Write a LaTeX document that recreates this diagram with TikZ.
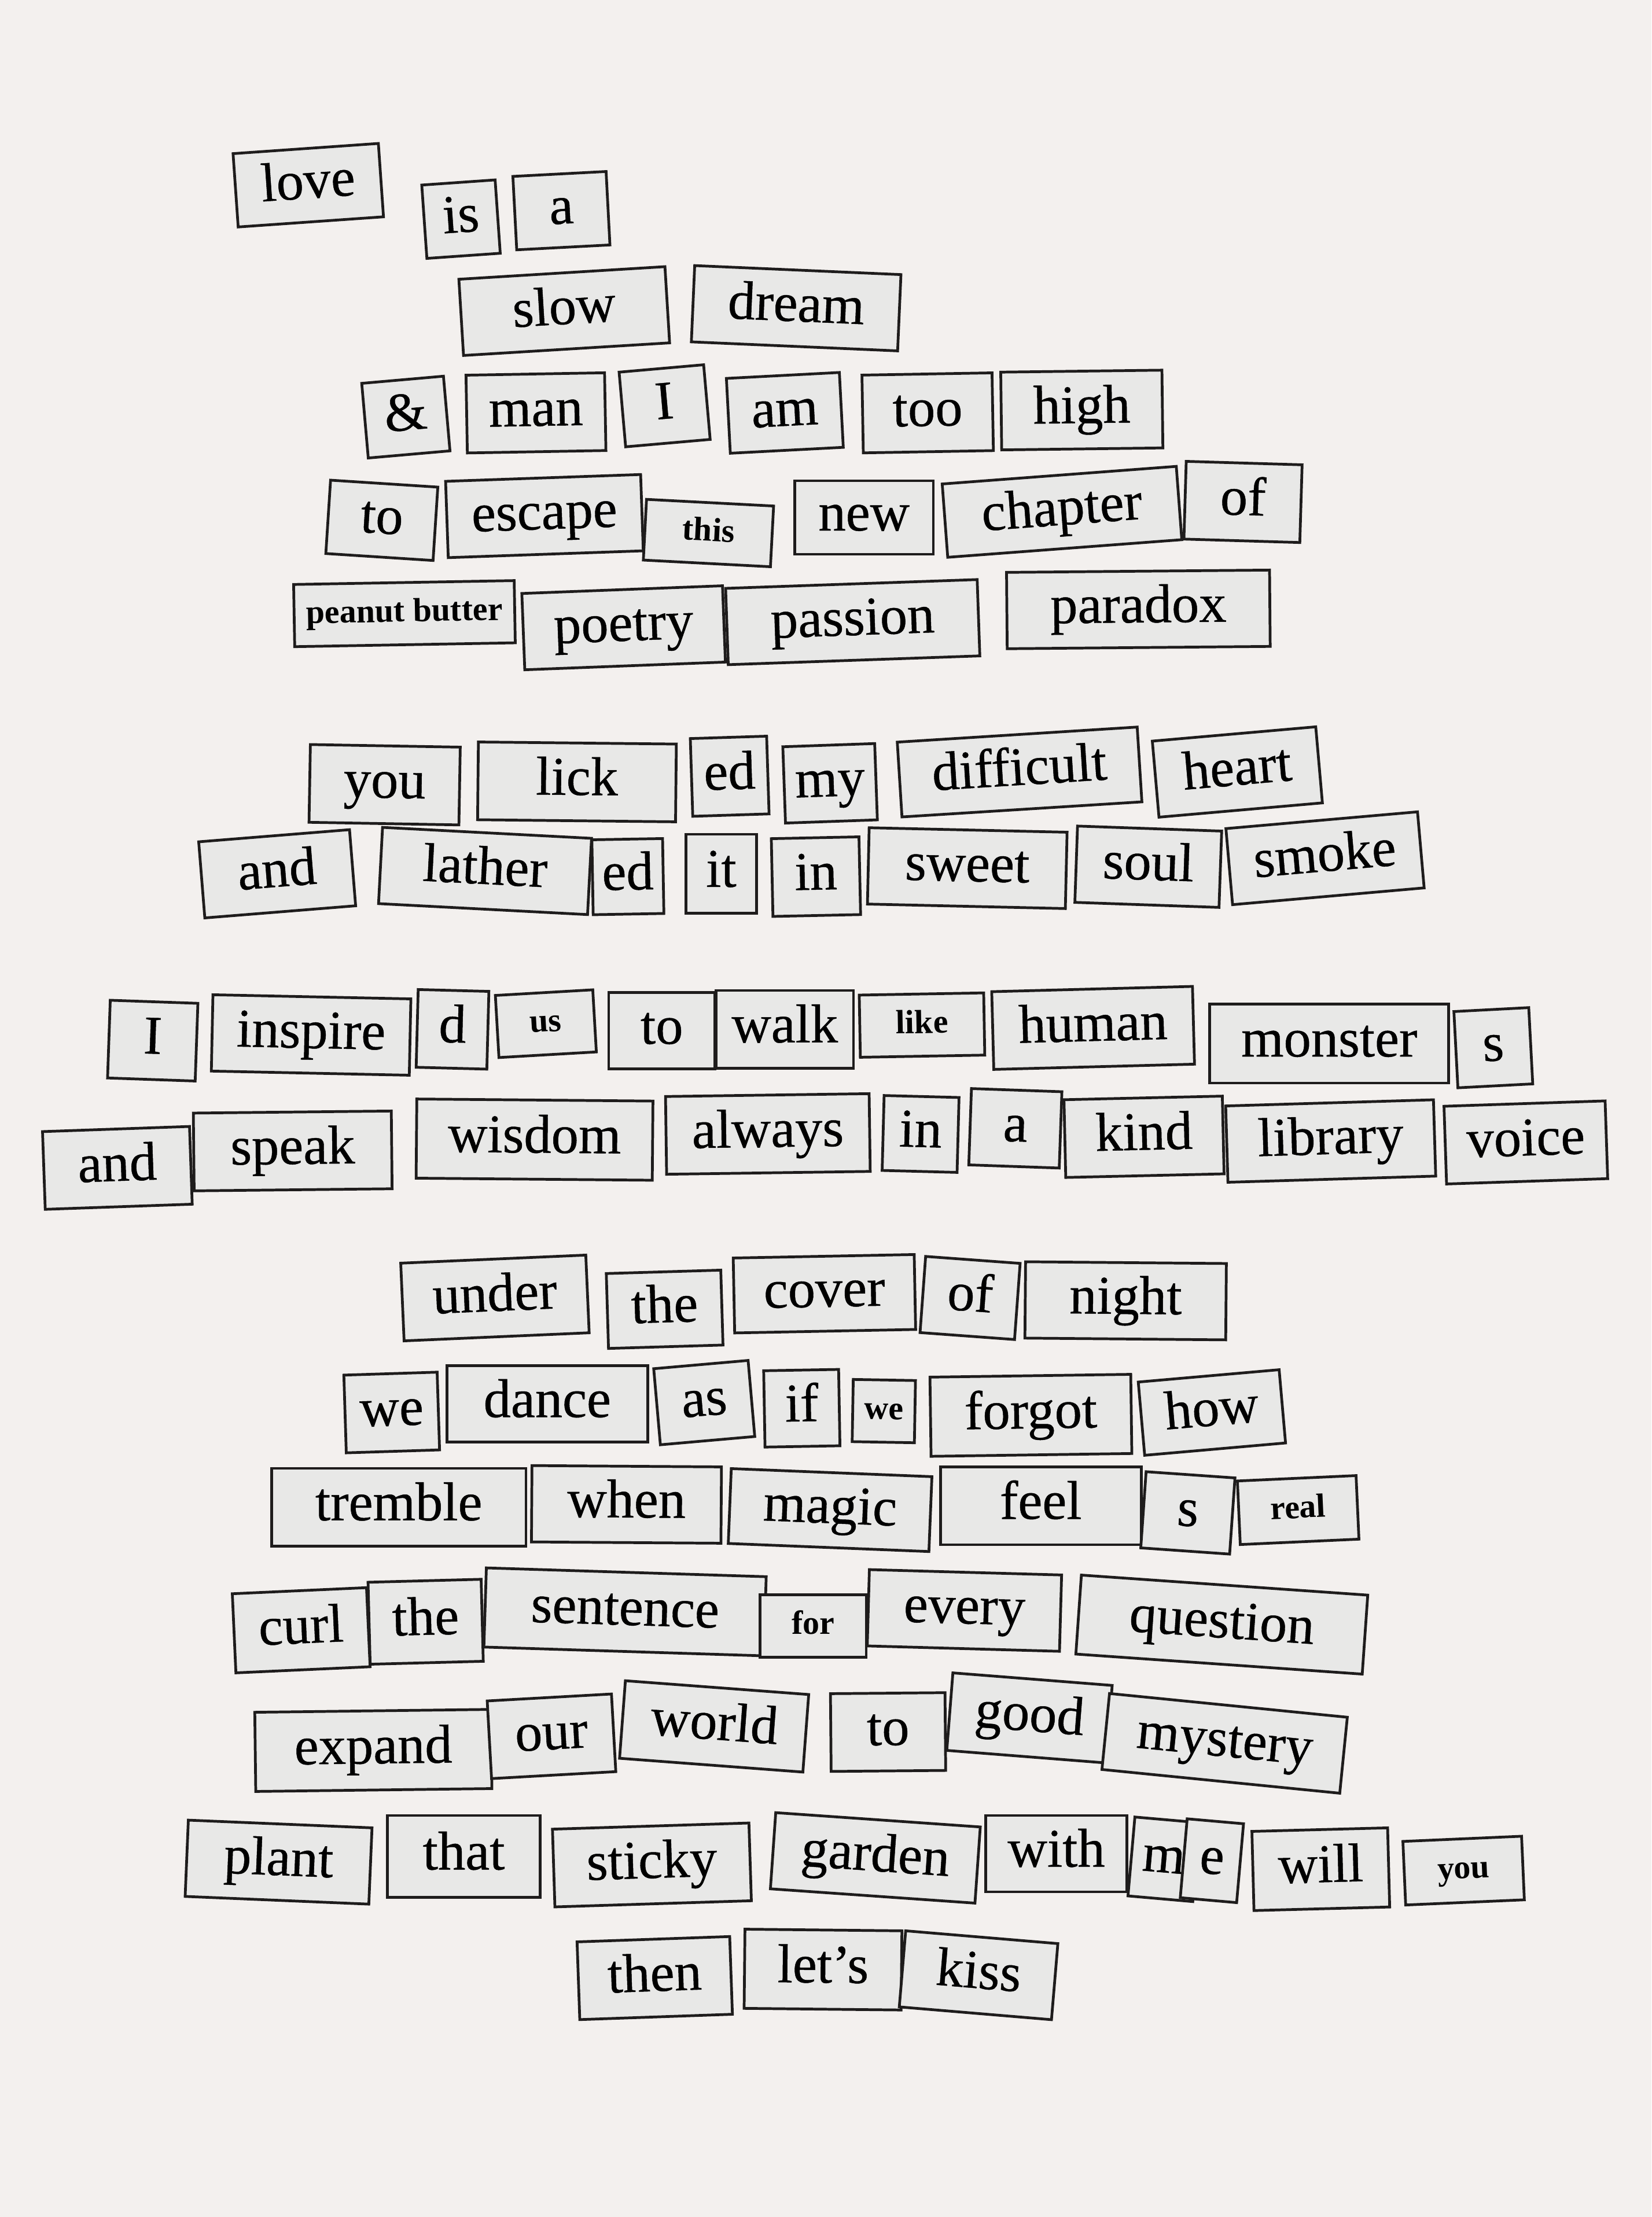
\documentclass[tikz,border=0pt]{standalone}
\usepackage{fontspec}
\setmainfont{Liberation Serif}
\newfontfamily\inkfont[FakeBold=0.5]{Liberation Serif}
\definecolor{fridge}{RGB}{243,240,238}
\definecolor{tilefill}{RGB}{232,232,231}
\definecolor{tileedge}{RGB}{30,28,28}
\tikzset{
  wordtile/.style={draw=tileedge, line width=1.1pt, fill=tilefill, inner sep=0pt,
    font=\inkfont\fontsize{22}{22}\selectfont, text height=15pt, text depth=4.5pt},
  smallword/.style={wordtile, font=\fontsize{13.5}{13.5}\selectfont\bfseries,
    text height=9.5pt, text depth=3pt}
}
% #1 style, #2 name, #3 cx, #4 cy, #5 width, #6 height, #7 rotation, #8 text
\newcommand{\magnet}[8]{\node[#1, minimum width=#5*0.02cm, minimum height=#6*0.02cm, rotate=#7] (#2) at (#3,#4) {#8};}
\begin{document}
\begin{tikzpicture}[x=0.02cm, y=-0.02cm]
\fill[fridge] (0,0) rectangle (1168,1568);
\useasboundingbox (0,0) rectangle (1168,1568);
% row 1
\magnet{wordtile}{love}{218}{131}{103}{52}{4}{love}
\magnet{wordtile}{is}{326}{155}{52}{52}{4}{is}
\magnet{wordtile}{a1}{397}{149}{66}{52}{3}{a}
% row 2
\magnet{wordtile}{slow}{399}{220}{146}{54}{3.5}{slow}
\magnet{wordtile}{dream}{563}{218}{146}{54}{-2.5}{dream}
% row 3
\magnet{wordtile}{amp}{287}{295}{58}{53}{5}{\&}
\magnet{wordtile}{man}{379}{292}{98}{55}{1}{man}
\magnet{wordtile}{I1}{470}{287}{60}{53}{5}{I}
\magnet{wordtile}{am}{555}{292}{80}{53}{3}{am}
\magnet{wordtile}{too}{656}{292}{92}{55}{1}{too}
\magnet{wordtile}{high}{765}{290}{114}{55}{0.7}{high}
% row 4
\magnet{wordtile}{to1}{270}{368}{76}{52}{-3.7}{to}
\magnet{wordtile}{escape}{385}{365}{138}{54}{2}{escape}
\magnet{smallword}{this}{501}{377}{90}{43}{-3}{this}
\magnet{wordtile}{new}{611}{366}{98}{52}{0}{new}
\magnet{wordtile}{chapter}{751}{362}{166}{52}{4.3}{chapter}
\magnet{wordtile}{of1}{879}{355}{82}{55}{-1.7}{of}
% row 5
\magnet{smallword}{peanut}{286}{434}{156}{44}{1}{peanut butter}
\magnet{wordtile}{poetry}{441}{444}{142}{54}{2.2}{poetry}
\magnet{wordtile}{passion}{603}{440}{178}{54}{2}{passion}
\magnet{wordtile}{paradox}{805}{431}{186}{54}{0.5}{paradox}
% row 6
\magnet{wordtile}{you1}{272}{555}{106}{55}{-1}{you}
\magnet{wordtile}{lick}{408}{553}{140}{55}{-0.6}{lick}
\magnet{wordtile}{ed1}{516}{549}{54}{55}{1.8}{ed}
\magnet{wordtile}{my}{587}{554}{65}{54}{2}{my}
\magnet{wordtile}{difficult}{721}{546}{170}{53}{3.6}{difficult}
\magnet{wordtile}{heart}{875}{546}{116}{54}{5}{heart}
% row 7
\magnet{wordtile}{and1}{196}{618}{107}{54}{4.6}{and}
\magnet{wordtile}{lather}{343}{616}{148}{54}{-3}{lather}
\magnet{wordtile}{ed2}{444}{620}{50}{53}{1}{ed}
\magnet{wordtile}{it}{510}{618}{50}{56}{0}{it}
\magnet{wordtile}{in1}{577}{620}{62}{55}{1.2}{in}
\magnet{wordtile}{sweet}{684}{614}{140}{54}{-1.3}{sweet}
\magnet{wordtile}{soul}{812}{613}{102}{54}{-2}{soul}
\magnet{wordtile}{smoke}{937}{607}{136}{54}{5}{smoke}
% row 8
\magnet{wordtile}{I2}{108}{736}{62}{55}{-2}{I}
\magnet{wordtile}{inspire}{220}{732}{140}{54}{-1.2}{inspire}
\magnet{wordtile}{d}{320}{728}{50}{55}{-1.5}{d}
\magnet{smallword}{us}{386}{724}{69}{44}{3.3}{us}
\magnet{wordtile}{to2}{468}{729}{75}{54}{0}{to}
\magnet{wordtile}{walk}{555}{728}{97}{55}{0}{walk}
\magnet{smallword}{like}{652}{725}{88}{44}{1}{like}
\magnet{wordtile}{human}{773}{727}{142}{55}{1.5}{human}
\magnet{wordtile}{monster}{940}{738}{169}{56}{0}{monster}
\magnet{wordtile}{s1}{1056}{741}{53}{54}{3}{s}
% row 9
\magnet{wordtile}{and2}{83}{826}{104}{55}{2}{and}
\magnet{wordtile}{speak}{207}{814}{140}{55}{0.6}{speak}
\magnet{wordtile}{wisdom}{378}{806}{167}{56}{-0.5}{wisdom}
\magnet{wordtile}{always}{543}{802}{144}{55}{0.8}{always}
\magnet{wordtile}{in2}{651}{802}{53}{53}{-1.5}{in}
\magnet{wordtile}{a2}{718}{798}{64}{54}{-2}{a}
\magnet{wordtile}{kind}{809}{804}{112}{55}{1.3}{kind}
\magnet{wordtile}{library}{941}{807}{147}{54}{1.7}{library}
\magnet{wordtile}{voice}{1079}{808}{114}{55}{1.9}{voice}
% row 10
\magnet{wordtile}{under}{350}{918}{131}{55}{2.5}{under}
\magnet{wordtile}{the1}{470}{926}{81}{53}{1.7}{the}
\magnet{wordtile}{cover}{583}{915}{128}{53}{1.1}{cover}
\magnet{wordtile}{of2}{686}{918}{67}{54}{-4.2}{of}
\magnet{wordtile}{night}{796}{920}{142}{54}{-0.5}{night}
% row 11
\magnet{wordtile}{we1}{277}{999}{66}{55}{1.8}{we}
\magnet{wordtile}{dance}{387}{993}{142}{54}{0}{dance}
\magnet{wordtile}{as}{498}{992}{67}{54}{5}{as}
\magnet{wordtile}{if}{567}{996}{53}{54}{1}{if}
\magnet{smallword}{we2}{625}{998}{44}{44}{-1}{we}
\magnet{wordtile}{forgot}{729}{1001}{142}{56}{0.8}{forgot}
\magnet{wordtile}{how}{857}{999}{100}{52}{5}{how}
% row 12
\magnet{wordtile}{tremble}{282}{1066}{180}{55}{0}{tremble}
\magnet{wordtile}{when}{443}{1064}{134}{54}{-0.4}{when}
\magnet{wordtile}{magic}{587}{1068}{142}{53}{-2.3}{magic}
\magnet{wordtile}{feel}{736}{1065}{142}{55}{0}{feel}
\magnet{wordtile}{s2}{840}{1070}{63}{54}{-4}{s}
\magnet{smallword}{real}{918}{1068}{84}{45}{2.6}{real}
% row 13
\magnet{wordtile}{curl}{213}{1153}{95}{56}{2.6}{curl}
\magnet{wordtile}{the2}{301}{1147}{80}{58}{1.5}{the}
\magnet{wordtile}{sentence}{442}{1140}{198}{56}{-1.8}{sentence}
\magnet{smallword}{for}{575}{1150}{75}{44}{0}{for}
\magnet{wordtile}{every}{682}{1139}{136}{54}{-1.6}{every}
\magnet{wordtile}{question}{864}{1149}{203}{56}{-4}{question}
% row 14
\magnet{wordtile}{expand}{264}{1238}{167}{56}{0.7}{expand}
\magnet{wordtile}{our}{390}{1228}{88}{55}{3.2}{our}
\magnet{wordtile}{world}{505}{1221}{130}{55}{-4.3}{world}
\magnet{wordtile}{to3}{628}{1225}{81}{55}{0.5}{to}
\magnet{wordtile}{good}{728}{1215}{113}{55}{-4.5}{good}
\magnet{wordtile}{mystery}{866}{1233}{169}{54}{-5.7}{mystery}
% row 15
\magnet{wordtile}{plant}{197}{1317}{130}{54}{-2.4}{plant}
\magnet{wordtile}{that}{328}{1313}{108}{58}{0}{that}
\magnet{wordtile}{sticky}{461}{1319}{139}{55}{1.8}{sticky}
\magnet{wordtile}{garden}{619}{1314}{145}{54}{-4}{garden}
\magnet{wordtile}{with}{747}{1311}{100}{54}{0}{with}
\magnet{wordtile}{m}{823}{1315}{46}{56}{-5}{m}
\magnet{wordtile}{e}{857}{1316}{40}{56}{-5}{e}
\magnet{wordtile}{will}{934}{1322}{96}{56}{1.5}{will}
\magnet{smallword}{you2}{1035}{1323}{84}{45}{2.5}{you}
% row 16
\magnet{wordtile}{then}{463}{1399}{108}{55}{2}{then}
\magnet{wordtile}{lets}{582}{1393}{111}{56}{-0.6}{let’s}
\magnet{wordtile}{kiss}{692}{1397}{108}{54}{-4.8}{kiss}
\end{tikzpicture}
\end{document}
